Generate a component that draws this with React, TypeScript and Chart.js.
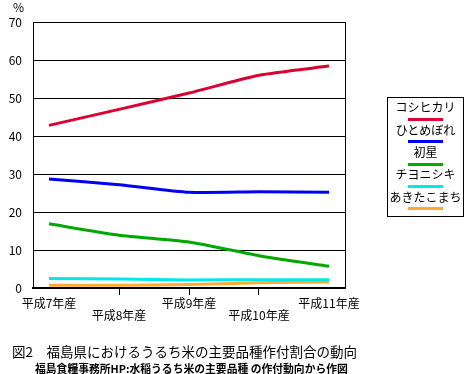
import React, { useEffect, useRef } from "react";
import { Chart, registerables } from "chart.js";
Chart.register(...registerables);

const categories = ["平成7年産", "平成8年産", "平成9年産", "平成10年産", "平成11年産"];
const seriesNames = ["コシヒカリ", "ひとめぼれ", "初星", "チヨニシキ", "あきたこまち"];
const koshihikari = [42.8, 47.0, 51.3, 56.0, 58.4];
const hitomebore = [28.7, 27.2, 25.2, 25.3, 25.2];
const hatsuboshi = [16.9, 13.9, 12.1, 8.5, 5.7];
const chiyonishiki = [2.5, 2.4, 2.1, 2.2, 2.2];
const akitakomachi = [0.7, 0.7, 0.9, 1.4, 1.6];
const yTicks = [0, 10, 20, 30, 40, 50, 60, 70];
const colors = ["#DC0032", "#0000F0", "#00A800", "#00E8E8", "#FFAA30"];

const allSeries = [koshihikari, hitomebore, hatsuboshi, chiyonishiki, akitakomachi];
const FONT = "'Noto Sans CJK JP', 'Liberation Sans', sans-serif";

export default function App() {
  const ref = useRef<HTMLCanvasElement | null>(null);
  useEffect(() => {
    const borderPlugin = {
      id: "rightBorder",
      afterDraw(chart: any) {
        const { ctx, chartArea } = chart;
        ctx.save();
        ctx.strokeStyle = "#000";
        ctx.lineWidth = 1;
        ctx.beginPath();
        ctx.moveTo(Math.round(chartArea.right) + 0.5, chartArea.top);
        ctx.lineTo(Math.round(chartArea.right) + 0.5, chartArea.bottom);
        ctx.stroke();
        ctx.restore();
      },
    };
    const chart = new Chart(ref.current as HTMLCanvasElement, {
      type: "line",
      data: {
        datasets: allSeries.map((s, i) => ({
          label: seriesNames[i],
          data: s.map((v, j) => ({ x: j, y: v })),
          borderColor: colors[i],
          backgroundColor: colors[i],
          borderWidth: 3,
          pointRadius: 0,
          tension: 0.2,
          fill: false,
        })),
      },
      options: {
        animation: false,
        responsive: false,
        layout: { padding: { left: 0, top: 22, right: 129, bottom: 0 } },
        plugins: { legend: { display: false }, tooltip: { enabled: false } },
        scales: {
          x: {
            type: "linear",
            min: -0.2286,
            max: 4.2286,
            afterBuildTicks: (scale: any) => {
              scale.ticks = categories.map((_, i) => ({ value: i }));
            },
            afterFit: (scale: any) => {
              scale.height = 86;
            },
            border: { color: "#000", width: 2 },
            grid: {
              drawOnChartArea: false,
              drawTicks: true,
              tickLength: 7,
              color: (c: any) => (c.index === 0 || c.index === 4 ? "rgba(0,0,0,0)" : "#000"),
            },
            ticks: {
              maxRotation: 0,
              autoSkip: false,
              padding: 2,
              color: "#000",
              font: { family: FONT, size: 12, lineHeight: 1.0 },
              callback: (v: any, i: number) =>
                i % 2 === 0 ? [categories[i], ""] : ["", categories[i]],
            },
          },
          y: {
            min: 0,
            max: 70,
            afterBuildTicks: (scale: any) => {
              scale.ticks = yTicks.map((v) => ({ value: v }));
            },
            afterFit: (scale: any) => {
              scale.width = 33;
            },
            border: { color: "#000", width: 1 },
            grid: { color: "#000", lineWidth: 1, drawTicks: false },
            ticks: {
              padding: 11,
              color: "#000",
              font: { family: FONT, size: 12 },
            },
          },
        },
      },
      plugins: [borderPlugin],
    } as any);
    return () => chart.destroy();
  }, []);

  const legendTexts = [107, 130, 152, 174, 197];
  const legendLines = [119, 141, 164, 186, 208];

  return (
    <div
      style={{
        position: "absolute",
        left: 0,
        top: 0,
        width: 474,
        height: 374,
        background: "#fff",
        fontFamily: FONT,
        color: "#000",
      }}
    >
      <canvas ref={ref} width={474} height={374} style={{ position: "absolute", left: 0, top: 0 }} />
      <div style={{ position: "absolute", left: 13, top: 0, fontSize: 12, lineHeight: "14px" }}>%</div>
      <div
        style={{
          position: "absolute",
          left: 387,
          top: 97,
          width: 75,
          height: 118,
          border: "1px solid #000",
          boxSizing: "content-box",
        }}
      />
      {seriesNames.map((n, i) => (
        <React.Fragment key={n}>
          <div
            style={{
              position: "absolute",
              left: 387,
              width: 77,
              top: legendTexts[i] - 7,
              textAlign: "center",
              fontSize: 12,
              lineHeight: "14px",
              whiteSpace: "nowrap",
            }}
          >
            {n}
          </div>
          <div
            style={{
              position: "absolute",
              left: 408,
              width: 35,
              top: legendLines[i] - 1,
              height: 3,
              background: colors[i],
            }}
          />
        </React.Fragment>
      ))}
      <div
        style={{
          position: "absolute",
          left: 12,
          top: 342,
          fontSize: 13.5,
          lineHeight: "18px",
          whiteSpace: "nowrap",
        }}
      >
        図2　福島県におけるうるち米の主要品種作付割合の動向
      </div>
      <div
        style={{
          position: "absolute",
          left: 35,
          top: 361,
          fontSize: 10.8,
          fontWeight: "bold",
          lineHeight: "14px",
          whiteSpace: "nowrap",
        }}
      >
        福島食糧事務所HP:水稲うるち米の主要品種 の作付動向から作図
      </div>
    </div>
  );
}
